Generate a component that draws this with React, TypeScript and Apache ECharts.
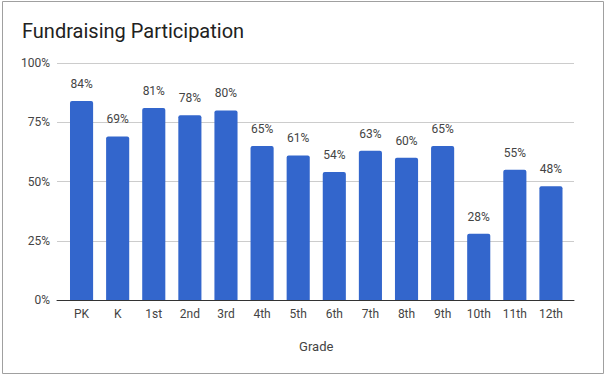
import React, { useEffect, useRef } from "react";
import * as echarts from "echarts";

const categories = ["PK", "K", "1st", "2nd", "3rd", "4th", "5th", "6th", "7th", "8th", "9th", "10th", "11th", "12th"];
const participation = [84, 69, 81, 78, 80, 65, 61, 54, 63, 60, 65, 28, 55, 48];
const yTicks = [0, 25, 50, 75, 100];

export default function App() {
  const ref = useRef<HTMLDivElement>(null);
  useEffect(() => {
    document.body.style.margin = "0";
    const chart = echarts.init(ref.current!, undefined, { renderer: "svg" });
    const yMin = yTicks[0];
    const yMax = yTicks[yTicks.length - 1];
    chart.setOption({
      animation: false,
      backgroundColor: "#ffffff",
      textStyle: { fontFamily: "Roboto" },
      title: {
        text: "Fundraising Participation",
        left: 17,
        top: 16,
        textStyle: { fontFamily: "Roboto", fontSize: 20, fontWeight: "normal", color: "#212121" },
      },
      graphic: [
        {
          type: "rect",
          shape: { x: 2.5, y: 1.5, width: 601, height: 372 },
          style: { fill: "none", stroke: "#a0a0a0", lineWidth: 1 },
          silent: true,
        },
      ],
      grid: [
        { left: 57, right: 32, top: 63, bottom: 76, containLabel: false },
        { left: 63.5, right: 37, top: 63, bottom: 76, containLabel: false },
      ],
      xAxis: [
        {
          type: "value",
          gridIndex: 0,
          min: 0,
          max: 1,
          axisLine: { show: true, onZero: false, lineStyle: { color: "#333333", width: 1 } },
          axisTick: { show: false },
          axisLabel: { show: false },
          splitLine: { show: false },
        },
        {
          type: "category",
          gridIndex: 1,
          data: categories,
          name: "Grade",
          nameLocation: "middle",
          nameGap: 40,
          nameTextStyle: { fontFamily: "Roboto", fontSize: 13, color: "#444444" },
          axisLine: { show: false },
          axisTick: { show: false },
          axisLabel: { fontFamily: "Roboto", fontSize: 12, color: "#444444", margin: 8 },
        },
      ],
      yAxis: [
        {
          type: "value",
          gridIndex: 0,
          min: yMin,
          max: yMax,
          interval: 25,
          axisLine: { show: false },
          axisTick: { show: false },
          splitLine: { lineStyle: { color: "#cccccc", width: 1 } },
          axisLabel: { fontFamily: "Roboto", fontSize: 12, color: "#444444", margin: 7, formatter: "{value}%" },
        },
        {
          type: "value",
          gridIndex: 1,
          min: yMin,
          max: yMax,
          interval: 25,
          show: false,
          splitLine: { show: false },
        },
      ],
      series: [
        {
          type: "bar",
          xAxisIndex: 1,
          yAxisIndex: 1,
          data: participation,
          barCategoryGap: "36%",
          itemStyle: { color: "#3366cc", borderRadius: [2, 2, 0, 0] },
          label: {
            show: true,
            position: "top",
            distance: 11,
            formatter: "{c}%",
            fontFamily: "Roboto",
            fontSize: 12,
            color: "#444444",
          },
        },
      ],
    });
    return () => chart.dispose();
  }, []);
  return <div ref={ref} style={{ width: 606, height: 376 }} />;
}
